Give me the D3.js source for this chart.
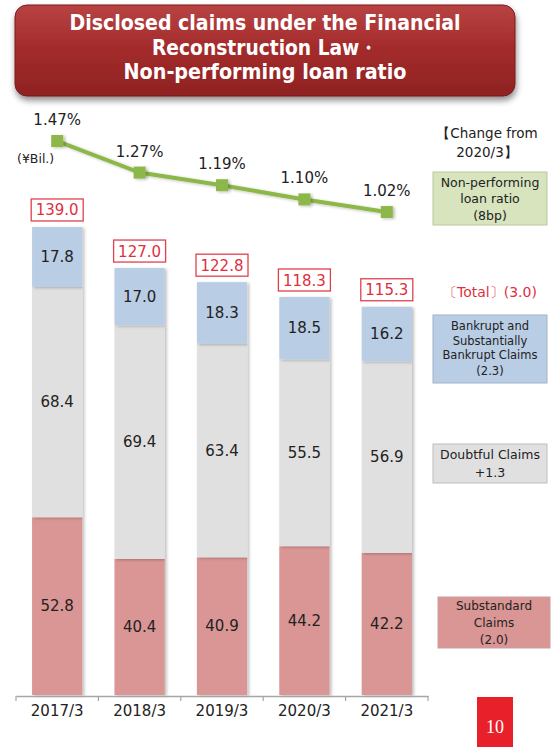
<!DOCTYPE html>
<html><head><meta charset="utf-8">
<script src="https://cdn.jsdelivr.net/npm/d3@7/dist/d3.min.js"></script>
<style>
html,body{margin:0;padding:0;background:#fff;}
svg{display:block;font-family:"DejaVu Sans",Verdana,sans-serif;}
</style></head>
<body>
<svg id="c" width="551" height="747"></svg>
<script>
const years = ["2017/3","2018/3","2019/3","2020/3","2021/3"];
const substandard = [52.8,40.4,40.9,44.2,42.2];
const doubtful = [68.4,69.4,63.4,55.5,56.9];
const bankrupt = [17.8,17.0,18.3,18.5,16.2];
const totals = [139.0,127.0,122.8,118.3,115.3];
const nplRatio = [1.47,1.27,1.19,1.10,1.02];
const nplLabels = ["1.47%","1.27%","1.19%","1.10%","1.02%"];
const titleLines = ["Disclosed claims under the Financial","Reconstruction Law・","Non-performing loan ratio"];

const svg = d3.select("#c");
const defs = svg.append("defs");
const tg = defs.append("linearGradient").attr("id","tg").attr("x1",0).attr("y1",0).attr("x2",0).attr("y2",1);
tg.append("stop").attr("offset","0%").attr("stop-color","#b84343");
tg.append("stop").attr("offset","45%").attr("stop-color","#a52c2c");
tg.append("stop").attr("offset","100%").attr("stop-color","#8f2222");
const sh = defs.append("filter").attr("id","sh").attr("x","-20%").attr("y","-20%").attr("width","150%").attr("height","150%");
sh.append("feDropShadow").attr("dx",2).attr("dy",1).attr("stdDeviation",1.5).attr("flood-color","#000").attr("flood-opacity",0.25);
const tsh = defs.append("filter").attr("id","tsh").attr("x","-10%").attr("y","-10%").attr("width","120%").attr("height","140%");
tsh.append("feDropShadow").attr("dx",1).attr("dy",4).attr("stdDeviation",3).attr("flood-color","#000").attr("flood-opacity",0.45);

// Title
svg.append("rect").attr("x",15).attr("y",5).attr("width",500).attr("height",91).attr("rx",12)
  .attr("fill","url(#tg)").attr("stroke","#7a1c1c").attr("stroke-width",1).attr("filter","url(#tsh)");
const titleW = [391,226,283];
const titleY = [30,55,79];
titleLines.forEach((t,i)=>{
  svg.append("text").attr("x",265).attr("y",titleY[i]).attr("text-anchor","middle")
    .attr("fill","#fff").attr("font-weight","bold").attr("font-size",21)
    .attr("textLength",titleW[i]).attr("lengthAdjust","spacingAndGlyphs").text(t);
});

// Scales
const x = d3.scaleBand().domain(years).range([16,428]).paddingInner(0.39).paddingOuter(0.195);
const y = d3.scaleLinear().domain([0,140]).range([695,223.6]);
const yr = d3.scaleLinear().domain([1.0,1.5]).range([215.2,136.3]);

// Stacked data
const rows = years.map((yr_,i)=>({year:yr_, sub:substandard[i], dou:doubtful[i], bank:bankrupt[i]}));
const stack = d3.stack().keys(["sub","dou","bank"])(rows);
const colors = {sub:"#d99694", dou:"#e0e0e0", bank:"#b9cde5"};

const g = svg.append("g");
stack.forEach(layer=>{
  g.selectAll(null).data(layer).enter().append("rect")
    .attr("x",d=>x(d.data.year)).attr("width",x.bandwidth())
    .attr("y",d=>y(d[1])).attr("height",d=>y(d[0])-y(d[1]))
    .attr("fill",colors[layer.key]).attr("filter","url(#sh)");
});
stack.forEach(layer=>{
  g.selectAll(null).data(layer).enter().append("text")
    .attr("x",d=>x(d.data.year)+x.bandwidth()/2)
    .attr("y",d=>(y(d[0])+y(d[1]))/2+5)
    .attr("text-anchor","middle").attr("font-size",15).attr("fill","#222")
    .text(d=>d.data[layer.key].toFixed(1));
});

// Axis
const axisY = 696;
const ax = svg.append("g").attr("transform",`translate(0,${axisY})`)
  .call(d3.axisBottom(x).tickSize(0).tickPadding(9));
ax.select(".domain").attr("stroke","#a6a6a6").attr("stroke-width",1.5);
ax.selectAll("text").attr("font-size",15).attr("fill","#222").attr("font-family","DejaVu Sans, sans-serif");
const bounds = years.map(d=>x(d)-x.step()*x.paddingInner()/2).concat([428]);
ax.selectAll(".bt").data(bounds).enter().append("line")
  .attr("x1",d=>d).attr("x2",d=>d).attr("y1",0).attr("y2",5).attr("stroke","#a6a6a6").attr("stroke-width",1.2);

// Total boxes
years.forEach((yy,i)=>{
  const cx = x(yy)+x.bandwidth()/2;
  const top = y(substandard[i]+doubtful[i]+bankrupt[i]);
  svg.append("rect").attr("x",cx-26).attr("y",top-28).attr("width",52).attr("height",22)
    .attr("fill","#fff").attr("stroke","#e0404c").attr("stroke-width",1.3);
  svg.append("text").attr("x",cx).attr("y",top-11.5).attr("text-anchor","middle")
    .attr("font-size",15).attr("fill","#e03040").text(totals[i].toFixed(1));
});

// NPL line
const line = d3.line().x((d,i)=>x(years[i])+x.bandwidth()/2).y(d=>yr(d));
svg.append("path").datum(nplRatio).attr("d",line).attr("fill","none")
  .attr("stroke","#8db84a").attr("stroke-width",4).attr("filter","url(#sh)");
svg.selectAll(".mk").data(nplRatio).enter().append("rect")
  .attr("x",(d,i)=>x(years[i])+x.bandwidth()/2-6).attr("y",d=>yr(d)-6)
  .attr("width",12).attr("height",12).attr("fill","#8db84a").attr("filter","url(#sh)");
svg.selectAll(".pl").data(nplRatio).enter().append("text")
  .attr("x",(d,i)=>x(years[i])+x.bandwidth()/2).attr("y",d=>yr(d)-16)
  .attr("text-anchor","middle").attr("font-size",15).attr("fill","#222")
  .text((d,i)=>nplLabels[i]);
svg.append("text").attr("x",17).attr("y",163).attr("font-size",12.5).attr("fill","#222").text("(¥Bil.)");

// Right side annotations
function multi(xc, ys, lines, size, color){
  lines.forEach((t,i)=>svg.append("text").attr("x",xc).attr("y",ys[i]).attr("text-anchor","middle")
    .attr("font-size",size).attr("fill",color).text(t));
}
multi(487,[138,157],["【Change from","2020/3】"],13.5,"#222");
svg.append("rect").attr("x",433).attr("y",172).attr("width",114).attr("height",53).attr("fill","#d7e4bd").attr("stroke","#b8c8a0");
multi(490,[187,203,220],["Non-performing","loan ratio","(8bp)"],12.5,"#222");
svg.append("text").attr("x",490).attr("y",297).attr("text-anchor","middle").attr("font-size",14).attr("fill","#e03040").text("〔Total〕(3.0)");
svg.append("rect").attr("x",433).attr("y",315).attr("width",114).attr("height",68).attr("fill","#b9cde5").attr("stroke","#9fb2c8");
multi(490,[330,345,359,375],["Bankrupt and","Substantially","Bankrupt Claims","(2.3)"],11.5,"#222");
svg.append("rect").attr("x",433).attr("y",444).attr("width",114).attr("height",39).attr("fill","#e0e0e0").attr("stroke","#bdbdbd");
multi(490,[459,477],["Doubtful Claims","+1.3"],12.5,"#222");
svg.append("rect").attr("x",438).attr("y",597).attr("width",112).attr("height",51).attr("fill","#d99694").attr("stroke","#c8a0a0");
multi(494,[610,627,644],["Substandard","Claims","(2.0)"],12,"#222");

// Page number
svg.append("rect").attr("x",477).attr("y",697).attr("width",36).attr("height",50).attr("fill","#e8202a");
svg.append("text").attr("x",495).attr("y",733).attr("text-anchor","middle").attr("font-size",18)
  .attr("font-family","Liberation Serif, serif").attr("fill","#fff").text("10");
</script>
</body></html>
